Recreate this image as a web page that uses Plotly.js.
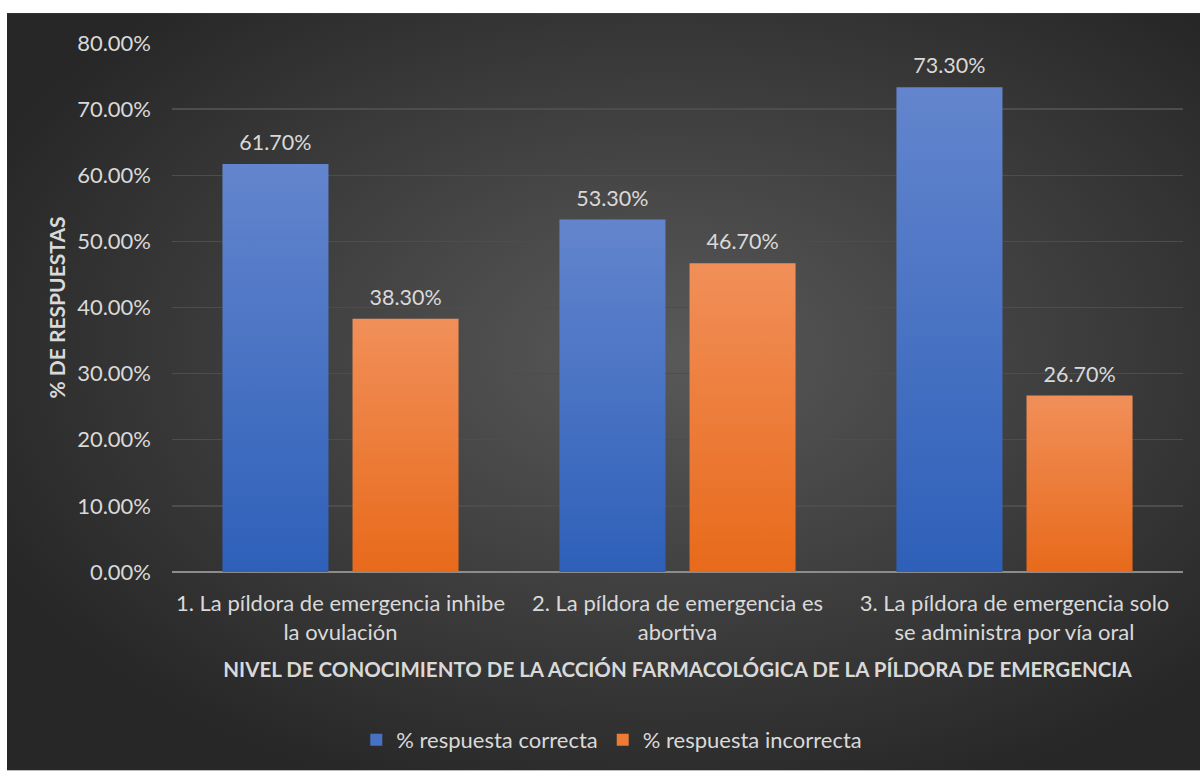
<!DOCTYPE html>
<html>
<head>
<meta charset="utf-8">
<script src="https://cdn.plot.ly/plotly-3.0.1.min.js"></script>
<style>
html,body{margin:0;padding:0;background:#fff;}
#chart{width:1200px;height:772px;}
</style>
</head>
<body>
<div id="chart"></div>
<script>
// ---- data ----
const categories = [
  "1. La píldora de emergencia inhibe<br>la ovulación",
  "2. La píldora de emergencia es<br>abortiva",
  "3. La píldora de emergencia solo<br>se administra por vía oral"
];
const seriesNames = ["% respuesta correcta", "% respuesta incorrecta"];
const correcta = [0.617, 0.533, 0.733];
const incorrecta = [0.383, 0.467, 0.267];
const yTicks = [0, 0.1, 0.2, 0.3, 0.4, 0.5, 0.6, 0.7, 0.8];
const xTitle = "NIVEL DE CONOCIMIENTO DE LA ACCIÓN FARMACOLÓGICA DE LA PÍLDORA DE EMERGENCIA";
const yTitle = "% DE RESPUESTAS";

// ---- layout constants ----
const W = 1200, H = 772;
const M = {l: 172, r: 17, t: 43, b: 199};
const plotW = W - M.l - M.r, plotH = H - M.t - M.b;
const bgLeft = 7, bgTop = 13;
const FONT = "Lato, 'Open Sans', sans-serif";
const TXT = "#d9d9d9";

const bgSvg = "<svg xmlns='http://www.w3.org/2000/svg' width='1193' height='759' viewBox='0 0 1193 759' preserveAspectRatio='none'>" +
  "<defs><radialGradient id='g' cx='0.55' cy='0.45' r='0.62' gradientUnits='objectBoundingBox'>" +
  "<stop offset='0' stop-color='#595959'/><stop offset='1' stop-color='#272727'/></radialGradient></defs>" +
  "<rect width='1193' height='759' fill='url(#g)'/></svg>";
const bgUri = "data:image/svg+xml;charset=utf-8," + encodeURIComponent(bgSvg);

const fmt = v => (v * 100).toFixed(2) + "%";
const labelFont = {family: FONT, size: 21.5, color: TXT};

const traces = [
  {
    type: "bar", name: seriesNames[0], x: categories, y: correcta,
    offsetgroup: "a", marker: {color: "#4772c4"}, hoverinfo: "skip"
  },
  {
    type: "bar", name: seriesNames[1], x: categories, y: incorrecta,
    offsetgroup: "b", marker: {color: "#ed7b36"}, hoverinfo: "skip"
  },
  {
    type: "scatter", mode: "markers+text", x: categories, y: correcta,
    offsetgroup: "a", orientation: "v", showlegend: false, cliponaxis: false,
    marker: {size: 12, opacity: 0}, text: correcta.map(fmt),
    textposition: "top center", textfont: labelFont, hoverinfo: "skip"
  },
  {
    type: "scatter", mode: "markers+text", x: categories, y: incorrecta,
    offsetgroup: "b", orientation: "v", showlegend: false, cliponaxis: false,
    marker: {size: 12, opacity: 0}, text: incorrecta.map(fmt),
    textposition: "top center", textfont: labelFont, hoverinfo: "skip"
  }
];

const layout = {
  width: W, height: H,
  margin: M,
  paper_bgcolor: "#ffffff",
  plot_bgcolor: "rgba(0,0,0,0)",
  font: {family: FONT, color: TXT, size: 22},
  barmode: "group",
  scattermode: "group",
  bargap: 0.228,
  bargroupgap: 0.185,
  scattergap: 0.228,
  showlegend: true,
  legend: {
    orientation: "h", x: 0.435, xanchor: "center",
    y: (H - M.b - 740) / plotH, yanchor: "middle",
    font: {family: FONT, size: 22, color: TXT},
    bgcolor: "rgba(0,0,0,0)", traceorder: "normal",
    itemwidth: 30
  },
  xaxis: {
    type: "category",
    tickfont: {family: FONT, size: 22, color: TXT},
    showgrid: false, zeroline: false,
    showline: false, ticks: "", ticklabelstandoff: 16,
    title: {text: "<b>" + xTitle + "</b>", font: {family: FONT, size: 20.5, color: TXT}, standoff: 19},
    automargin: false
  },
  yaxis: {
    range: [0, 0.8], tickvals: yTicks, tickformat: ".2%",
    tickfont: {family: FONT, size: 22, color: TXT},
    showgrid: true, gridcolor: "#4d4d4d", gridwidth: 1.3,
    zeroline: true, zerolinecolor: "#8c8c8c", zerolinewidth: 2,
    showline: false, ticks: "", ticklabelstandoff: 20,
    title: {text: "<b>" + yTitle + "</b>", font: {family: FONT, size: 21, color: TXT}, standoff: 5},
    automargin: false
  },
  images: [{
    source: bgUri, layer: "below",
    xref: "paper", yref: "paper",
    x: (bgLeft - M.l) / plotW, y: (H - M.b - bgTop) / plotH,
    sizex: (W - bgLeft) / plotW, sizey: (H - bgTop) / plotH,
    xanchor: "left", yanchor: "top", sizing: "stretch"
  }]
};

Plotly.newPlot("chart", traces, layout, {staticPlot: true, displayModeBar: false}).then(gd => {
  const svg = gd.querySelector("svg.main-svg");
  const ns = "http://www.w3.org/2000/svg";
  let defs = svg.querySelector("defs");
  if (!defs) { defs = document.createElementNS(ns, "defs"); svg.insertBefore(defs, svg.firstChild); }
  function grad(id, top, bot) {
    const lg = document.createElementNS(ns, "linearGradient");
    lg.setAttribute("id", id); lg.setAttribute("x1", "0"); lg.setAttribute("y1", "0");
    lg.setAttribute("x2", "0"); lg.setAttribute("y2", "1");
    [[0, top], [1, bot]].forEach(([o, c]) => {
      const s = document.createElementNS(ns, "stop");
      s.setAttribute("offset", o); s.setAttribute("stop-color", c); lg.appendChild(s);
    });
    defs.appendChild(lg);
  }
  grad("gBlue", "#6385cd", "#2e60b9");
  grad("gOrange", "#f18f59", "#e86a1b");
  const ids = ["url(#gBlue)", "url(#gOrange)"];
  gd.querySelectorAll(".barlayer .trace.bars").forEach((tr, i) => {
    tr.querySelectorAll(".point path").forEach(p => { p.style.fill = ids[i]; });
  });
});
</script>
</body>
</html>
